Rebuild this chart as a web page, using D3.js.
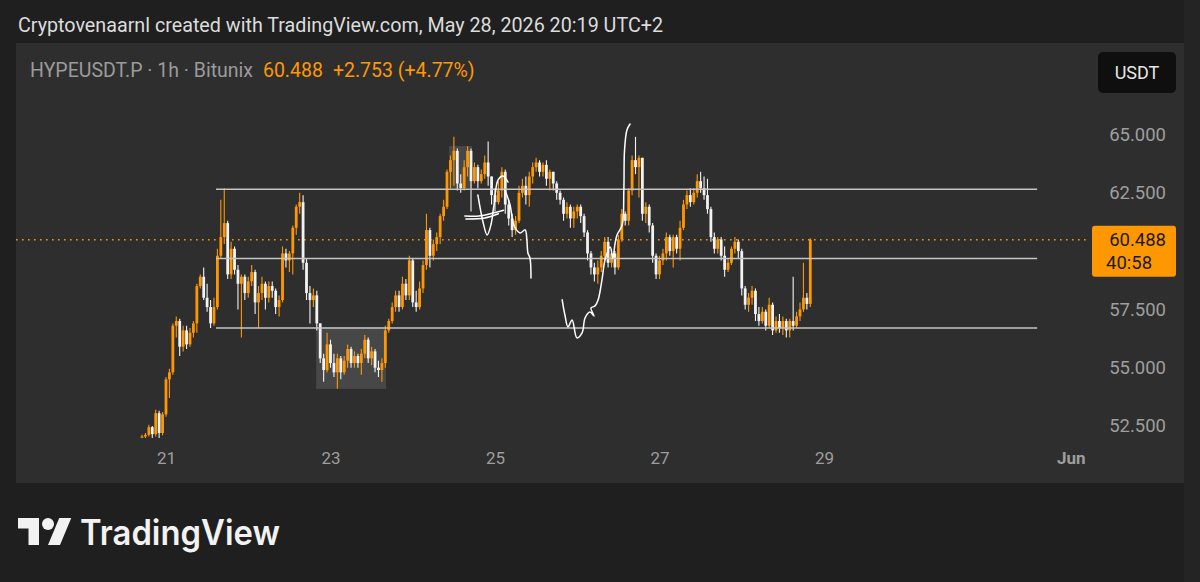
<!DOCTYPE html>
<html><head><meta charset="utf-8">
<script src="https://cdn.jsdelivr.net/npm/d3@7"></script>
<style>
html,body{margin:0;padding:0;background:#1f1f1f;}
svg{display:block;font-family:Roboto,"Noto Sans",sans-serif;}
</style></head><body>
<svg id="c" width="1200" height="582"></svg>
<script>
// ---------- DATA ----------
const symbolText = "HYPEUSDT.P · 1h · Bitunix";
const headerText = "Cryptovenaarnl created with TradingView.com, May 28, 2026 20:19 UTC+2";
const lastPriceText = "60.488";
const changeText = "+2.753 (+4.77%)";
const countdownText = "40:58";
const currencyText = "USDT";

const firstBarTime = Date.UTC(2026, 4, 20, 17); // May 20 17:00 (UTC+2 display)
const firstOpen = 52.0;
const closes = [
  52.05, 52.12, 52.45, 52.15, 53.05, 52.2, 53.0,
  54.5, 54.8, 56.8, 57.0, 55.9, 56.6, 56.0, 56.5, 56.9, 58.5, 58.9, 58.0, 57.6, 56.9, 57.6, 59.8, 60.6, 61.2, 59.0, 60.1, 59.2, 58.6, 58.9, 58.2,
  58.7, 59.1, 57.8, 58.2, 58.6, 58.0, 58.5, 58.3, 57.6, 57.9, 59.9, 59.6, 59.9, 61.0, 61.9, 62.1, 59.5, 58.2, 57.9, 58.1, 56.9, 55.4, 54.9, 56.0,
  55.2, 54.8, 55.4, 54.8, 55.3, 55.8, 55.2, 55.5, 55.2, 55.6, 56.2, 55.4, 55.7, 55.0, 54.9, 55.2, 56.6, 57.0, 57.6, 58.1, 57.6, 58.6, 58.1, 59.6,
  57.8, 57.6, 58.4, 59.4, 60.9, 59.8, 60.3, 60.6, 61.5, 61.9, 63.4, 63.9, 64.3, 62.9, 62.7, 63.6, 64.3, 63.0, 63.6, 63.0, 63.3, 63.8, 63.2, 62.4,
  62.1, 62.6, 63.4, 62.0, 61.4, 60.9, 61.3, 62.5, 62.8, 62.4, 63.2, 63.6, 63.8, 63.4, 63.7, 63.1, 63.4, 62.9, 62.5, 62.2, 61.6, 61.9, 61.4, 61.7,
  61.9, 61.5, 60.8, 59.9, 59.3, 59.0, 59.3, 59.8, 60.4, 59.5, 59.9, 59.3, 60.5, 61.6, 61.3, 62.6, 63.9, 63.6, 64.0, 61.6, 61.9, 61.1, 59.8, 59.0,
  59.6, 59.9, 60.6, 60.0, 60.6, 60.1, 61.0, 62.0, 62.4, 62.1, 62.5, 63.0, 62.7, 62.4, 61.8, 60.6, 60.1, 60.5, 59.8, 59.2, 59.5, 60.1, 60.4, 60.0,
  58.4, 57.7, 58.0, 58.3, 57.3, 57.0, 57.4, 56.8, 57.7, 56.6, 57.0, 56.7, 57.0, 56.6, 57.0, 56.8, 57.2, 57.5, 58.0, 57.735, 60.488
];
const highs = [
  52.12, 52.2, 52.55, 52.5, 53.2, 53.15, 53.1,
  54.6, 54.95, 56.9, 57.2, 57.1, 56.8, 56.8, 56.7, 57.0, 58.6, 59.0, 59.3, 58.6, 57.9, 58.0, 60.1, 62.2, 62.7, 61.3, 60.4, 60.2, 59.4, 59.0, 59.0,
  58.9, 59.4, 59.2, 58.5, 58.9, 58.7, 58.7, 58.7, 58.4, 58.1, 60.2, 60.1, 60.0, 61.1, 62.0, 62.5, 62.4, 59.7, 58.5, 58.4, 58.3, 56.9, 55.6, 56.5,
  56.2, 55.6, 55.6, 55.5, 55.5, 56.0, 55.9, 55.7, 55.6, 55.8, 56.4, 56.3, 55.9, 55.8, 55.3, 55.4, 56.8, 57.1, 57.8, 58.3, 58.3, 58.9, 58.8, 59.8,
  59.7, 58.3, 58.7, 59.6, 61.6, 61.0, 60.5, 60.8, 61.6, 62.2, 63.5, 64.1, 64.9, 64.4, 63.3, 63.9, 64.5, 64.4, 63.8, 63.7, 63.5, 64.1, 64.7, 63.2,
  62.7, 63.0, 63.6, 63.5, 62.2, 61.6, 61.5, 62.8, 63.1, 63.2, 63.4, 63.8, 64.0, 63.9, 63.8, 63.9, 63.5, 63.4, 63.0, 62.6, 62.3, 62.1, 62.0, 61.9,
  62.0, 62.0, 61.6, 60.9, 60.0, 59.5, 59.6, 60.0, 60.6, 60.6, 60.1, 60.0, 60.7, 61.8, 61.7, 62.7, 64.1, 64.9, 64.1, 64.0, 62.1, 62.0, 61.2, 59.9,
  59.8, 60.1, 60.8, 60.7, 60.7, 60.7, 61.3, 62.2, 62.6, 62.7, 62.7, 63.3, 63.4, 63.2, 63.1, 61.9, 60.8, 60.6, 60.6, 60.2, 59.7, 60.2, 60.6, 60.5,
  60.1, 58.5, 58.2, 58.5, 58.4, 57.6, 57.6, 57.5, 58.0, 57.8, 57.2, 57.3, 57.2, 57.1, 57.1, 58.9, 57.4, 57.8, 59.5, 58.2, 60.55
];
const lows = [
  51.95, 51.95, 52.05, 51.95, 52.05, 51.95, 52.1,
  52.9, 53.7, 54.7, 56.3, 55.5, 55.7, 55.8, 55.9, 56.3, 56.5, 58.4, 57.9, 57.4, 56.7, 56.8, 57.5, 59.7, 60.3, 58.8, 58.8, 59.0, 57.5, 56.3, 57.9,
  58.0, 58.5, 57.3, 56.7, 57.9, 57.5, 57.8, 58.0, 57.3, 57.2, 57.8, 59.3, 59.1, 59.0, 60.7, 61.6, 59.2, 57.9, 56.9, 57.6, 56.6, 55.2, 54.4, 54.8,
  55.0, 54.6, 54.1, 54.5, 54.7, 55.0, 55.0, 55.0, 55.0, 54.7, 55.4, 55.2, 55.1, 54.8, 54.6, 54.4, 55.0, 56.5, 56.9, 57.4, 57.4, 57.5, 57.9, 57.9,
  57.6, 57.4, 57.5, 58.2, 59.2, 59.3, 59.6, 60.0, 60.3, 61.3, 61.8, 62.7, 62.8, 62.6, 62.5, 62.6, 63.2, 61.7, 62.9, 62.7, 62.9, 63.1, 62.8, 62.0,
  61.7, 62.0, 62.3, 61.6, 61.1, 60.6, 60.7, 61.2, 62.3, 62.0, 61.9, 62.9, 63.4, 63.2, 63.2, 62.8, 62.6, 62.6, 62.2, 62.0, 61.3, 61.4, 61.0, 61.0,
  61.4, 61.2, 60.6, 59.6, 59.0, 58.7, 58.6, 59.1, 59.6, 59.3, 59.3, 59.0, 59.2, 60.4, 61.1, 61.1, 62.4, 63.3, 62.3, 61.3, 61.2, 60.8, 59.5, 58.8,
  58.8, 59.4, 59.6, 59.8, 59.3, 59.9, 59.6, 60.9, 61.8, 61.9, 62.0, 62.3, 62.5, 62.2, 61.6, 60.4, 59.9, 59.9, 59.6, 58.9, 59.1, 59.4, 59.9, 59.7,
  58.1, 57.5, 57.4, 57.7, 57.0, 56.8, 56.9, 56.6, 56.7, 56.4, 56.5, 56.5, 56.4, 56.3, 56.3, 56.6, 56.7, 57.0, 57.4, 57.5, 57.6
];

const priceTicks = [52.5, 55, 57.5, 62.5, 65];
const timeTicks = [Date.UTC(2026,4,21), Date.UTC(2026,4,23), Date.UTC(2026,4,25), Date.UTC(2026,4,27), Date.UTC(2026,4,29), Date.UTC(2026,5,1)];
const timeTickLabels = ["21", "23", "25", "27", "29", "Jun"];

// drawings: hours counted from May 21 00:00
const levelPrices = [62.65, 59.68, 56.70];
const levelFromHour = 14.6, levelToHour = 254.2;
const boxes = [ {h0: 43.8, h1: 64.2, p0: 54.09, p1: 56.75}, {h0: 82.6, h1: 89.3, p0: 62.71, p1: 64.51} ];
const scribbles = [
  [[87.2,61.5],[92,61.52],[98.5,61.75]],
  [[87.5,61.38],[93,61.42],[97,61.6]],
  [[91.0,62.41],[92.5,61.25],[93.7,60.69],[94.8,61.12],[95.7,61.98],[96.9,63.05],[98.3,63.22],[99.8,62.96]],
  [[98.9,62.62],[100.4,61.98],[101.5,61.12],[103.3,60.78],[104.8,60.91],[105.3,60.48],[105.6,59.92],[106.2,59.71],[106.5,58.85]],
  [[115.6,57.91],[116.4,57.26],[117.3,56.75],[118.5,57.05],[119.9,56.28],[121.4,56.49],[122.3,57.14],[123.7,57.39],[124.9,57.22],[124.0,57.56],[125.2,57.65],[126.1,57.91],[127.2,58.76],[128.1,59.62],[129.6,60.18],[130.4,59.7],[131.0,60.3],[131.6,60.69],[133.1,61.12],[133.6,62.62],[133.8,64.34],[134.5,65.19],[135.4,65.45]]
];

// ---------- CHART ----------
const svg = d3.select("#c");
const W = 1200, H = 582;
const up = "#ff9800", down = "#f2f2f2";
const hourMs = 3600e3, day0 = Date.UTC(2026,4,21);

svg.append("rect").attr("width", W).attr("height", H).attr("fill", "#1f1f1f");
svg.append("rect").attr("x", 1184).attr("y", 0).attr("width", 16).attr("height", H).attr("fill", "#242424");
svg.append("rect").attr("x", 16).attr("y", 43).attr("width", 1168).attr("height", 440).attr("fill", "#2e2e2e");

const x = d3.scaleUtc().domain([new Date(Date.UTC(2026,4,21)), new Date(Date.UTC(2026,4,29))]).range([166, 824]);
const y = d3.scaleLinear().domain([52.5, 65]).range([426, 134.5]);
const xh = h => x(new Date(day0 + h * hourMs));

const defs = svg.append("defs");
defs.append("clipPath").attr("id", "plot").append("rect").attr("x", 16).attr("y", 43).attr("width", 1070).attr("height", 395);
const plot = svg.append("g").attr("clip-path", "url(#plot)");

// highlight boxes
plot.selectAll("rect.box").data(boxes).join("rect").attr("class", "box")
  .attr("x", d => xh(d.h0)).attr("width", d => xh(d.h1) - xh(d.h0))
  .attr("y", d => y(d.p1)).attr("height", d => y(d.p0) - y(d.p1))
  .attr("fill", "#474747");

// last price dotted line
plot.append("line").attr("x1", 16).attr("x2", 1086).attr("y1", y(closes[closes.length-1])).attr("y2", y(closes[closes.length-1]))
  .attr("stroke", up).attr("stroke-width", 1.6).attr("stroke-dasharray", "1.6,4.4");

// candles
const bars = closes.map((c, i) => {
  const o = i ? closes[i-1] : firstOpen;
  return { t: new Date(firstBarTime + i * hourMs), o, c, h: Math.max(highs[i], o, c), l: Math.min(lows[i], o, c) };
});
const bw = 2.8;
const cg = plot.append("g");
cg.selectAll("line").data(bars).join("line")
  .attr("x1", d => x(d.t)).attr("x2", d => x(d.t))
  .attr("y1", d => y(d.h)).attr("y2", d => y(d.l))
  .attr("stroke", d => d.c >= d.o ? up : down).attr("stroke-width", 1.1);
cg.selectAll("rect").data(bars).join("rect")
  .attr("x", d => x(d.t) - bw/2).attr("width", bw)
  .attr("y", d => y(Math.max(d.o, d.c)))
  .attr("height", d => Math.max(1, Math.abs(y(d.o) - y(d.c))))
  .attr("fill", d => d.c >= d.o ? up : down);

// horizontal levels
plot.selectAll("line.lvl").data(levelPrices).join("line").attr("class", "lvl")
  .attr("x1", xh(levelFromHour)).attr("x2", xh(levelToHour))
  .attr("y1", d => y(d)).attr("y2", d => y(d))
  .attr("stroke", "#c4c4c4").attr("stroke-width", 1.6);

// scribbles
const line = d3.line().x(d => xh(d[0])).y(d => y(d[1])).curve(d3.curveCatmullRom.alpha(0.5));
plot.selectAll("path.scr").data(scribbles).join("path").attr("class", "scr")
  .attr("d", line).attr("fill", "none").attr("stroke", "#ffffff").attr("stroke-width", 1.5)
  .attr("stroke-linecap", "round").attr("stroke-linejoin", "round");

// price axis
const yAxis = svg.append("g").attr("transform", "translate(1166,0)")
  .call(d3.axisRight(y).tickValues(priceTicks).tickSize(0).tickFormat(d3.format(".3f")));
yAxis.select(".domain").remove();
yAxis.selectAll("text").attr("x", 0).attr("text-anchor", "end").attr("fill", "#9e9e9e")
  .style("font-size", "18.5px").style("font-family", "Roboto, sans-serif");

// time axis
const xAxis = svg.append("g").attr("transform", "translate(0,449)")
  .call(d3.axisBottom(x).tickValues(timeTicks.map(t => new Date(t))).tickSize(0)
    .tickFormat((d, i) => timeTickLabels[i]));
xAxis.select(".domain").remove();
xAxis.selectAll("text").attr("fill", "#9e9e9e").attr("dy", "0.71em")
  .style("font-size", "17px").style("font-family", "Roboto, sans-serif")
  .style("font-weight", (d, i) => timeTickLabels[i] === "Jun" ? 700 : 400);

// last price label
const ly = y(closes[closes.length-1]);
svg.append("rect").attr("x", 1092).attr("y", ly - 14).attr("width", 84).attr("height", 51).attr("rx", 3).attr("fill", up);
svg.append("text").attr("x", 1166).attr("y", ly + 6.5).attr("text-anchor", "end").attr("fill", "#1a1a1a")
  .style("font-size", "18.5px").text(lastPriceText);
svg.append("text").attr("x", 1106).attr("y", ly + 29).attr("text-anchor", "start").attr("fill", "#1a1a1a")
  .style("font-size", "18.5px").text(countdownText);

// currency button
svg.append("rect").attr("x", 1098).attr("y", 52).attr("width", 78).attr("height", 41).attr("rx", 5).attr("fill", "#0f0f0f");
svg.append("text").attr("x", 1137).attr("y", 79).attr("text-anchor", "middle").attr("fill", "#e6e6e6")
  .style("font-size", "18px").text(currencyText);

// header
svg.append("text").attr("x", 18).attr("y", 32).attr("fill", "#dcdcdc").style("font-size", "20px")
  .attr("textLength", 645).attr("lengthAdjust", "spacingAndGlyphs").text(headerText);
const leg = svg.append("text").attr("x", 30).attr("y", 77).style("font-size", "19.5px");
leg.append("tspan").attr("fill", "#9b9b9b").text(symbolText);
leg.append("tspan").attr("fill", up).attr("dx", 10).text(lastPriceText);
leg.append("tspan").attr("fill", up).attr("dx", 10).text(changeText);

// logo
const logo = svg.append("g").attr("transform", "translate(18,512) scale(1.5)").attr("fill", "#f2f2f2");
logo.append("path").attr("d", "M14 22H7V11H0V4h14v18zM28 22h-8l7.5-18h8L28 22z");
logo.append("circle").attr("cx", 20).attr("cy", 8).attr("r", 4);
svg.append("text").attr("x", 80).attr("y", 545).attr("fill", "#f2f2f2")
  .style("font-family", "Inter, Roboto, sans-serif").style("font-size", "35px").style("font-weight", 600)
  .attr("textLength", 200).attr("lengthAdjust", "spacingAndGlyphs").text("TradingView");
</script>
</body></html>
